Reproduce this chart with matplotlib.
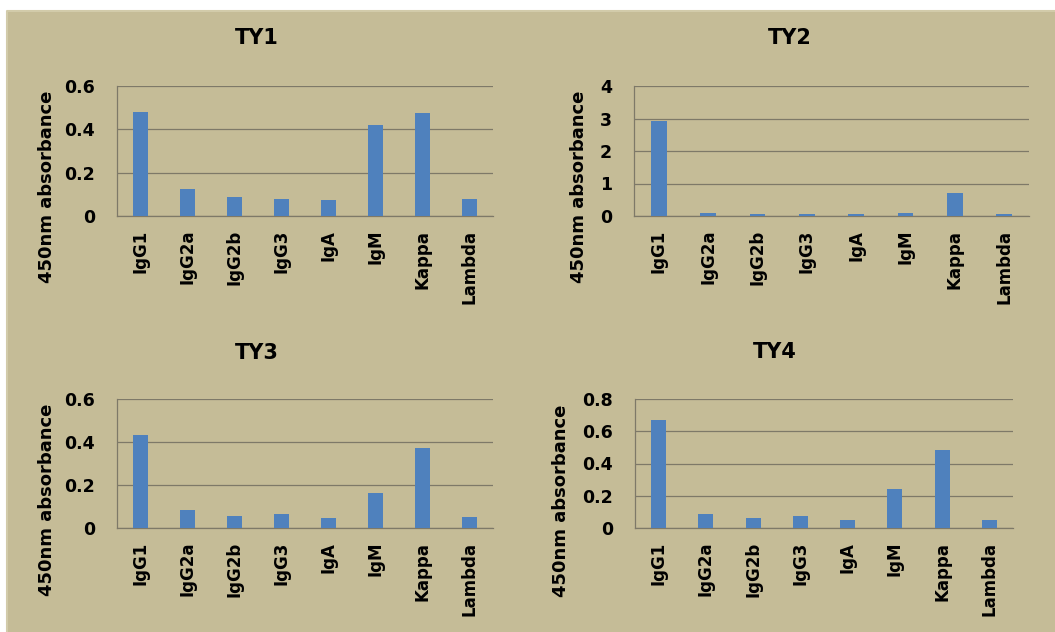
import matplotlib
matplotlib.use("Agg")
import matplotlib.pyplot as plt
from matplotlib.patches import Rectangle
from matplotlib.lines import Line2D

# Isotype panel data (450 nm absorbance)
isotypes = ["IgG1", "IgG2a", "IgG2b", "IgG3", "IgA", "IgM", "Kappa", "Lambda"]
ty1 = [0.481, 0.125, 0.088, 0.077, 0.072, 0.420, 0.477, 0.077]
ty2 = [2.91, 0.10, 0.06, 0.06, 0.05, 0.10, 0.72, 0.06]
ty3 = [0.434, 0.082, 0.054, 0.065, 0.048, 0.165, 0.370, 0.050]
ty4 = [0.669, 0.087, 0.060, 0.073, 0.052, 0.240, 0.481, 0.052]

titles = ["TY1", "TY2", "TY3", "TY4"]
series = [ty1, ty2, ty3, ty4]
y_ticks = [[0, 0.2, 0.4, 0.6], [0, 1, 2, 3, 4], [0, 0.2, 0.4, 0.6], [0, 0.2, 0.4, 0.6, 0.8]]
y_ticklabels = [["0", "0.2", "0.4", "0.6"], ["0", "1", "2", "3", "4"],
                ["0", "0.2", "0.4", "0.6"], ["0", "0.2", "0.4", "0.6", "0.8"]]
y_label = "450nm absorbance"

W, H = 1055, 632
BG = "#C5BC97"
BAR = "#4F81BD"
GRID = "#7E7968"

plt.rcParams["font.family"] = ["DejaVu Sans"]
plt.rcParams["font.weight"] = "bold"

fig = plt.figure(figsize=(W / 100, H / 100), dpi=100)
fig.patch.set_facecolor("white")
x0, y1 = 7 / W, 1 - 11 / H
fig.patches.append(Rectangle((x0, 0), 1 - x0, y1, transform=fig.transFigure,
                             facecolor=BG, edgecolor="none", zorder=-10))
# light edge along the top and left of the panel background
fig.lines.append(Line2D([x0, x0, 1], [0, y1, y1], transform=fig.transFigure,
                        color="#D2CBAA", linewidth=1.5, zorder=-9))

# plot areas in pixel coordinates: left, top, right, bottom
boxes = [(117, 86, 493, 216), (634, 86, 1029, 216),
         (117, 399, 493, 528), (635, 399, 1013, 528)]
title_pos = [(257, 38), (790, 38), (257, 353), (775, 352)]
ylabel_pos = [(47, 187), (579, 187), (47, 500), (561, 501)]

for i in range(4):
    l, t, r, b = boxes[i]
    ax = fig.add_axes([l / W, 1 - b / H, (r - l) / W, (b - t) / H])
    ax.set_facecolor("none")
    xs = list(range(len(isotypes)))
    ax.bar(xs, series[i], width=0.32, color=BAR, zorder=3)
    ax.set_xlim(-0.5, len(isotypes) - 0.5)
    ax.set_ylim(0, y_ticks[i][-1])
    ax.set_yticks(y_ticks[i])
    ax.set_yticklabels(y_ticklabels[i], fontsize=12.5, fontweight="bold")
    ax.set_xticks(xs)
    ax.set_xticklabels(isotypes, rotation=90, fontsize=12, fontweight="bold")
    ax.tick_params(axis="y", length=0, pad=16)
    ax.tick_params(axis="x", length=0, pad=10)
    ax.grid(axis="y", color=GRID, linewidth=0.9, zorder=0)
    for s in ["top", "right"]:
        ax.spines[s].set_visible(False)
    for s in ["left", "bottom"]:
        ax.spines[s].set_color(GRID)
        ax.spines[s].set_linewidth(0.9)
    tx, ty = title_pos[i]
    fig.text(tx / W, 1 - ty / H, titles[i], ha="center", va="center",
             fontsize=15, fontweight="bold")
    lx, ly = ylabel_pos[i]
    fig.text(lx / W, 1 - ly / H, y_label, ha="center", va="center", rotation=90,
             fontsize=13, fontweight="bold")

fig.savefig("out.png", dpi=100, facecolor=fig.get_facecolor())
